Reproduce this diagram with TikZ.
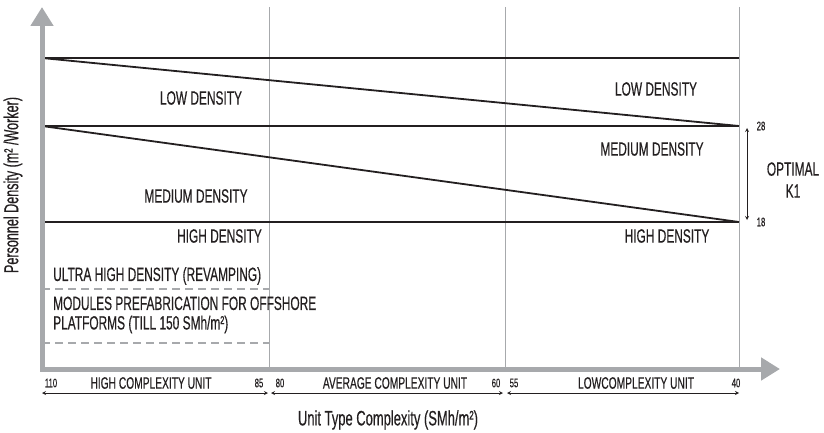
\documentclass[tikz,border=0pt]{standalone}
\usepackage{fontspec}
\setmainfont{Liberation Sans}[FakeStretch=0.62, FakeBold=0.4]
\usetikzlibrary{arrows.meta}
\definecolor{axisgray}{HTML}{A7A9AC}
\definecolor{ink}{HTML}{231F20}

\begin{document}
\begin{tikzpicture}[x=1pt, y=-1pt, >=stealth, color=ink,
    lbl/.style={inner sep=0pt, font=\fontsize{19.2}{22}\selectfont},
    cat/.style={inner sep=0pt, font=\fontsize{16.5}{19}\selectfont},
    num/.style={inner sep=0pt, font=\fontsize{12.4}{14}\selectfont},
    bigtip/.style={-{Triangle[length=19pt, width=22pt]}, line width=5, axisgray}]
    \useasboundingbox (0,0) rectangle (824,433);

    % levels
    \coordinate (tl) at (42,58);  \coordinate (tr) at (739,58);
    \coordinate (ml) at (42,126); \coordinate (mr) at (739,126);
    \coordinate (bl) at (42,222); \coordinate (br) at (739,222);
    \coordinate (o) at (42,369);

    % thin separators
    \draw[line width=1, axisgray] (269,7) -- (269,369);
    \draw[line width=1, axisgray] (505,7) -- (505,369);
    \draw[line width=1, axisgray] (739,7) -- (739,369);

    \draw[line width=1.8] (tl) -- (tr);
    \draw[line width=1.8] (ml) -- (mr);
    \draw[line width=1.8] (bl) -- (br);
    \draw[line width=1.8] (tl) -- (mr);
    \draw[line width=1.8] (ml) -- (br);

    \draw[line width=1.6, axisgray, dash pattern=on 8pt off 5pt] (42,289) -- (269,289);
    \draw[line width=1.6, axisgray, dash pattern=on 8pt off 5pt] (42,343) -- (269,343);

    % axes
    \draw[bigtip] (42,371) -- (42,7);
    \draw[bigtip] (40,369) -- (780,369);

    \node[lbl] (lowL) at (201,98) {LOW DENSITY};
    \node[lbl] (medL) at (196,196) {MEDIUM DENSITY};
    \node[lbl, anchor=east] (highL) at (262,236) {HIGH DENSITY};
    \node[lbl, anchor=west] (ultra) at (53,276) {ULTRA HIGH DENSITY (REVAMPING)};
    \node[lbl, anchor=west, align=left, font=\fontsize{19.2}{19.5}\selectfont] (modules) at (53,315)
        {MODULES PREFABRICATION FOR OFFSHORE\\PLATFORMS (TILL 150 SMh/m²)};
    \node[lbl] (lowR) at (656,89) {LOW DENSITY};
    \node[lbl] (medR) at (652,149) {MEDIUM DENSITY};
    \node[lbl] (highR) at (667,236) {HIGH DENSITY};

    % optimal band
    \node[num] (k28) at (761,126) {28};
    \node[num] (k18) at (761,222) {18};
    \coordinate (kt) at (747,128);
    \coordinate (kb) at (747,220);
    \draw[<->, line width=.8] (kt) -- (kb);
    \node[lbl, align=center, font=\fontsize{19.2}{22}\selectfont] (optimal) at (793,180) {OPTIMAL\\K1};

    % complexity ranges
    \node[num] (n110) at (51,383) {110};
    \node[cat] (highC) at (151,383) {HIGH COMPLEXITY UNIT};
    \node[num] (n85) at (259,383) {85};
    \node[num] (n80) at (280,383) {80};
    \node[cat] (avgC) at (395,383) {AVERAGE COMPLEXITY UNIT};
    \node[num] (n60) at (496,383) {60};
    \node[num] (n55) at (514,383) {55};
    \node[cat] (lowC) at (636,383) {LOWCOMPLEXITY UNIT};
    \node[num] (n40) at (736,383) {40};

    \coordinate (r1a) at (42,393);  \coordinate (r1b) at (268,393);
    \coordinate (r2a) at (271,393); \coordinate (r2b) at (503,393);
    \coordinate (r3a) at (507,393); \coordinate (r3b) at (739,393);
    \draw[<->, line width=.8] (r1a) -- (r1b);
    \draw[<->, line width=.8] (r2a) -- (r2b);
    \draw[<->, line width=.8] (r3a) -- (r3b);

    \node[inner sep=0pt, font=\fontsize{20.9}{22}\selectfont] (xlab) at (388,420) {Unit Type Complexity (SMh/m²)};
    \node[inner sep=0pt, rotate=90, font=\fontsize{20.3}{22}\selectfont] (ylab) at (13,185) {Personnel Density (m² /Worker)};
\end{tikzpicture}
\end{document}
